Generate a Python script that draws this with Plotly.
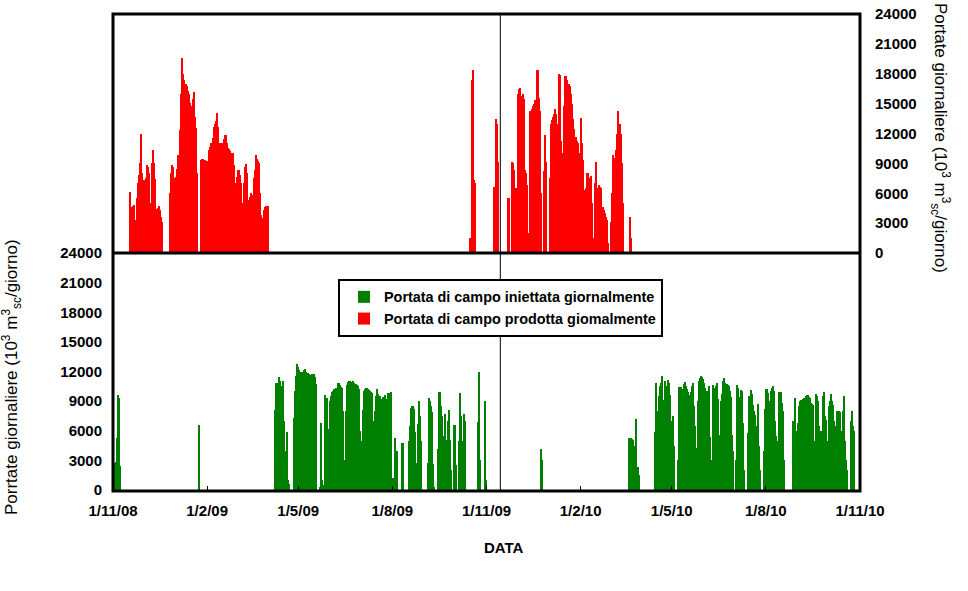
import pandas as pd
import plotly.graph_objects as go

X_START = "2008-11-01"
X_END = "2010-11-01"
SEPARATOR_DATE = "2009-11-14 12:00"
Y_TICKS = [0, 3000, 6000, 9000, 12000, 15000, 18000, 21000, 24000]

NAME_INJ = "Portata di campo iniettata giornalmente"
NAME_PROD = "Portata di campo prodotta giomalmente"

# ---- Portata prodotta (red), daily values, segments starting at the given date ----
PROD_2008_11_18 = [6100, 4600, 4600, 4700, 4800, 3300, 5500, 7000, 7800, 9000, 12000, 8000, 6800, 7300,
                   6600, 7500, 8800, 8600, 8000, 5000, 5000, 9000, 10300, 9000, 7400, 4300, 4400, 4500,
                   4700, 4300, 3600, 3100]
PROD_2008_12_27 = [6000, 8000, 8800, 8600, 7400, 7500, 7600, 8400, 9800, 12400, 16000, 19600, 18000, 17400,
                   17000, 17000, 16800, 16300, 16000, 15100, 14800, 14700, 15500, 16200, 13700, 12600, 8000]
PROD_2009_01_26 = [9300, 9400, 9400, 9300, 9300, 9200, 9200, 0, 10300, 10600, 11000, 10900, 11500, 12700,
                   13000, 13300, 14100, 12700, 11000, 11000, 10900, 11000, 11400, 11800, 11800, 11000, 10500,
                   10400, 10200, 9800, 10000, 10000, 8800, 7000, 5800, 7600, 8300, 8300, 7800, 7000, 5000, 0,
                   7000, 8600, 8900, 8000, 5300, 5000, 5600, 6000, 5300, 5800, 7500, 8300, 9800, 9400, 9200,
                   9000, 6000, 3800, 2800, 3500, 4300, 4600, 4700, 4700]
PROD_2009_10_16 = [1500, 0, 17400, 18400, 7300, 7000]
PROD_2009_11_08 = [6600, 6600, 13500, 13000, 9100]
PROD_2009_11_22 = [5500, 5500, 0, 0, 9100, 9000, 8300, 6500, 6500, 6000, 16000, 16500, 16600, 15800, 15500,
                   16000, 15500, 8300, 8000, 6800, 2000, 0, 14300, 14500, 14800, 15000, 15400, 15000, 18400,
                   18400, 15600, 14300, 6000, 0, 0, 8200, 11900, 9100]
PROD_2010_01_02 = [7500, 13000, 13400, 13700, 14000, 14500, 14000, 11000, 13000, 18000, 17900, 11200, 10000,
                   10000, 14800, 17800, 17800, 17400, 17000, 17000, 16800, 16000, 15000, 13500, 12500, 11600,
                   11200, 11000, 10000, 9600, 13600, 11000, 9300, 6100, 6300, 6500, 8000, 8000, 7300, 7500,
                   7700, 5000, 1500, 0, 7000, 9100, 6000, 6500, 6800, 6600, 6500, 2600, 4600, 4300, 4000,
                   3600, 3300, 1000, 0, 0, 3100, 6000, 9800, 9500, 9300, 10300, 12000, 14300, 13000, 12000,
                   9000, 5000]
PROD_2010_03_21 = [3600, 1500]

PROD_SEGMENTS = [
    ("2008-11-18", PROD_2008_11_18), ("2008-12-27", PROD_2008_12_27), ("2009-01-26", PROD_2009_01_26),
    ("2009-10-16", PROD_2009_10_16), ("2009-11-08", PROD_2009_11_08), ("2009-11-22", PROD_2009_11_22),
    ("2010-01-02", PROD_2010_01_02), ("2010-03-21", PROD_2010_03_21),
]

# ---- Portata iniettata (green) ----
INJ_2008_11_01 = [7400, 300, 2700, 2800, 5300, 9600, 9300, 2400]
INJ_2009_01_24 = [6600]
INJ_2009_04_08 = [8100, 10800, 10300, 10800, 11400, 11000, 10500, 10200, 11000, 7000, 2500, 4000, 5900, 1000, 600]
INJ_2009_04_27 = [7300, 10000, 11500, 12800, 12500, 12200, 12000, 12000, 12000, 12000, 12200, 12300, 12000,
                  11600, 11800, 11700, 11600, 11700, 11700, 11700, 11400, 10700]
INJ_2009_05_22 = [300, 6800, 1000, 300, 500, 9600, 9300, 9300, 6200, 1000, 9000, 9500, 9900, 10000, 10200,
                  10200, 10300, 10300, 10800, 10800, 10600, 10400, 10300, 8000, 3000, 0, 8000, 10600, 10900,
                  11000, 11000, 10900, 10900, 11000, 10800, 10700, 10600, 10500, 10200, 6000, 3500, 5000, 8100,
                  10000, 10200, 10300, 10300, 10200, 10100, 10000, 9900, 9800, 7000, 5700, 8000, 9500, 10200,
                  9700, 9300, 9500, 9200, 8900, 9400, 9200, 9600, 9200, 9000, 9800, 9800, 9800, 9900, 1000, 1200]
INJ_2009_08_04 = [5300, 3000, 3900, 0, 0, 0, 4800, 4800, 0, 0, 0, 0, 0, 5000, 6500, 8300, 8500, 8500, 8200,
                  5900, 2700, 0, 6700, 9000, 7500, 5000]
INJ_2009_09_05 = [2700, 9300, 9000, 8500, 7900, 2600, 300, 0, 0, 0, 4200, 9900, 9900, 8500, 7500, 5500, 7700,
                  5100, 4800, 7000, 8100, 5100, 2000, 0, 0, 6600, 6600, 2500, 0, 0, 5000, 9800, 7500, 5000,
                  3300, 7700, 7000]
INJ_2009_10_24 = [6900, 12000, 3000]
INJ_2009_10_31 = [9000, 1000]
INJ_2009_12_24 = [4200, 3000]
INJ_2010_03_20 = [5300, 5300, 5300, 5200, 5100, 4500, 3000, 7200, 2300, 2300, 1500]
INJ_2010_04_15 = [5900, 10800, 8000, 5800, 9500, 10500, 10800, 11500, 9100, 11000, 10000, 10500, 11100, 10800,
                  9600, 7000, 5600, 7500, 4500]
INJ_2010_05_07 = [3000, 10400, 10400, 10400, 10200, 10100, 10700, 10900, 10500, 10200, 9900, 9600, 9600, 9900,
                  10500, 10800, 8500, 6500, 4300]
INJ_2010_05_27 = [9000, 11000, 11300, 11500, 11400, 11200, 10800, 10300, 10000, 9900, 10500, 5400, 3000]
INJ_2010_06_10 = [10600, 10300, 9800, 10500, 10800, 9200, 5600, 3000, 9000, 9700, 11000, 11300, 10800, 10700,
                  10700, 10600, 10500, 10000, 9400, 5600, 4000]
INJ_2010_07_03 = [3000, 10600, 10300, 9400, 3700, 10100, 10000, 6800, 2000]
INJ_2010_07_15 = [5800, 9500, 10100, 9700, 8600, 8000, 7600, 5500, 6500, 8700, 4500, 2000]
INJ_2010_07_30 = [4000, 8200, 10200, 10200, 9800, 8500, 9000, 10000, 10300, 10500, 10000, 7000, 5500, 3000,
                  5000, 9900, 9900, 9900, 8800, 8000, 3000]
INJ_2010_08_28 = [7000, 9300, 6000, 4200, 6800, 8500, 9000, 9100, 9100, 9200, 9300, 9300, 9500, 9600, 9600,
                  9400, 9300, 8800, 8700, 8600, 5000, 4300, 9700, 9500, 9000, 6500, 6000, 3000, 6000, 9500,
                  9900, 7500, 7100, 3500, 5000, 8500, 9000, 9700, 9000, 8600, 7000, 6500, 6000, 8000, 8000,
                  7900, 6000, 5000, 8000, 9500, 5000, 3000, 2000]
INJ_2010_10_23 = [7000, 8000, 6500, 6000]

INJ_SEGMENTS = [
    ("2008-11-01", INJ_2008_11_01), ("2009-01-24", INJ_2009_01_24), ("2009-04-08", INJ_2009_04_08),
    ("2009-04-27", INJ_2009_04_27), ("2009-05-22", INJ_2009_05_22), ("2009-08-04", INJ_2009_08_04),
    ("2009-09-05", INJ_2009_09_05), ("2009-10-24", INJ_2009_10_24), ("2009-10-31", INJ_2009_10_31),
    ("2009-12-24", INJ_2009_12_24), ("2010-03-20", INJ_2010_03_20), ("2010-04-15", INJ_2010_04_15),
    ("2010-05-07", INJ_2010_05_07), ("2010-05-27", INJ_2010_05_27), ("2010-06-10", INJ_2010_06_10),
    ("2010-07-03", INJ_2010_07_03), ("2010-07-15", INJ_2010_07_15), ("2010-07-30", INJ_2010_07_30),
    ("2010-08-28", INJ_2010_08_28), ("2010-10-23", INJ_2010_10_23),
]

DAYS = pd.date_range(X_START, X_END, freq="D")


def build(segments):
    s = pd.Series(0.0, index=DAYS)
    for start, vals in segments:
        idx = pd.date_range(start, periods=len(vals), freq="D")
        s.loc[idx] = vals
    return s


inj = build(INJ_SEGMENTS)
prod = build(PROD_SEGMENTS)

W, H = 968, 591
PX_L, PX_R = 113, 860
PY_TOP, PY_MID, PY_BOT = 14, 253, 490


def fx(px):
    return px / W


def fy(py):
    return 1 - py / H


FONT = "Liberation Sans, Arial, sans-serif"
tickfont = dict(family=FONT, size=15, color="black", weight="bold")

fig = go.Figure()
fig.add_trace(go.Bar(x=DAYS, y=inj, name=NAME_INJ, marker=dict(color="#008000", line=dict(width=0)),
                     xaxis="x", yaxis="y", legendgroup="a"))
fig.add_trace(go.Bar(x=DAYS, y=prod, name=NAME_PROD, marker=dict(color="#FF0000", line=dict(width=0)),
                     xaxis="x", yaxis="y2", legendgroup="b"))

fig.update_layout(
    width=W, height=H, autosize=False,
    margin=dict(l=0, r=0, t=0, b=0),
    paper_bgcolor="white", plot_bgcolor="white",
    barmode="overlay", bargap=0,
    xaxis=dict(domain=[fx(PX_L), fx(PX_R)], range=[X_START, X_END], type="date",
               tick0=X_START, dtick="M3", tickformat="%-d/%-m/%y",
               ticks="inside", ticklen=4, tickcolor="black", tickwidth=1,
               showgrid=False, zeroline=False, showline=False, anchor="y", automargin=False,
               tickfont=tickfont, ticklabelstandoff=10),
    yaxis=dict(domain=[fy(PY_BOT), fy(PY_MID)], range=[0, 24000], tickvals=Y_TICKS, tickformat="d",
               showgrid=False, zeroline=False, showline=False, ticks="", side="left", automargin=False,
               anchor="x", tickfont=tickfont, ticklabelstandoff=10),
    yaxis2=dict(domain=[fy(PY_MID), fy(PY_TOP)], range=[0, 24000], tickvals=Y_TICKS, tickformat="d",
                showgrid=False, zeroline=False, showline=False, ticks="", side="right", automargin=False,
                anchor="x", tickfont=tickfont, ticklabelstandoff=14),
    legend=dict(x=fx(338), y=fy(279), xanchor="left", yanchor="top",
                bordercolor="black", borderwidth=2, bgcolor="white",
                font=dict(family=FONT, size=14.4, color="black", weight="bold"),
                tracegroupgap=10, traceorder="normal", indentation=4),
    showlegend=True,
)

line_black = dict(color="black", width=3)
fig.add_shape(type="rect", xref="paper", yref="paper", x0=fx(PX_L), x1=fx(PX_R),
              y0=fy(PY_BOT + 1), y1=fy(PY_TOP), line=line_black, fillcolor="rgba(0,0,0,0)", layer="above")
fig.add_shape(type="line", xref="paper", yref="paper", x0=fx(PX_L), x1=fx(PX_R),
              y0=fy(PY_MID), y1=fy(PY_MID), line=line_black, layer="above")
fig.add_shape(type="line", xref="x", yref="paper", x0=SEPARATOR_DATE, x1=SEPARATOR_DATE,
              y0=fy(PY_BOT), y1=fy(PY_TOP), line=dict(color="black", width=1), layer="above")

title_font = dict(family=FONT, size=17, color="black")
fig.add_annotation(text="Porrtate giornaliere (10<sup>3</sup> m<sup>3</sup><sub>sc</sub>/giorno)",
                   xref="paper", yref="paper", x=fx(12), y=fy(377), textangle=-90,
                   showarrow=False, font=title_font, xanchor="center", yanchor="middle")
fig.add_annotation(text="Portate giornaliere (10<sup>3</sup> m<sup>3</sup><sub>sc</sub>/giorno)",
                   xref="paper", yref="paper", x=fx(941), y=fy(138), textangle=90,
                   showarrow=False, font=title_font, xanchor="center", yanchor="middle")
fig.add_annotation(text="DATA", xref="paper", yref="paper", x=fx(504), y=fy(547),
                   showarrow=False, font=dict(family=FONT, size=15, color="black", weight="bold"),
                   xanchor="center", yanchor="middle")

fig.write_html("out.html")
